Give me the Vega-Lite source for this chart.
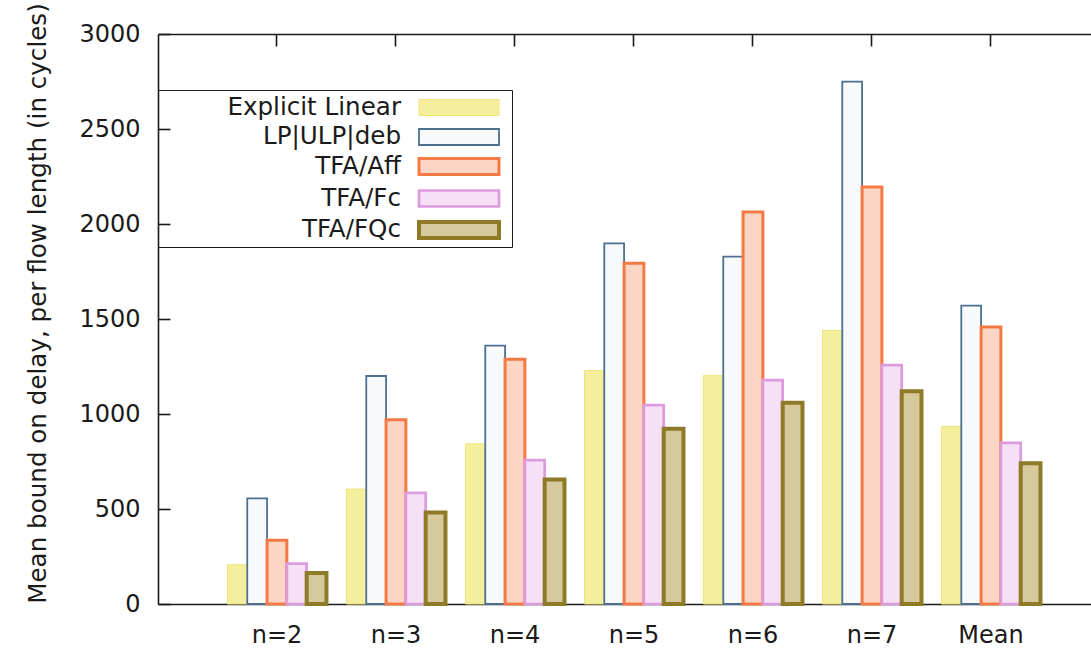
{
  "$schema": "https://vega.github.io/schema/vega-lite/v6.json",
  "width": 933,
  "height": 570,
  "autosize": "none",
  "padding": {"left": 158, "top": 34, "right": 0, "bottom": 45},
  "background": "white",
  "config": {
    "view": {"stroke": null},
    "font": "DejaVu Sans",
    "axis": {"grid": false, "domainColor": "#1a1a1a", "domainWidth": 1.6, "tickColor": "#1a1a1a", "tickWidth": 1.6, "labelColor": "#1a1a1a", "titleColor": "#1a1a1a"}
  },
  "data": {
    "values": [
      {"group": "n=2", "method": "Explicit Linear", "value": 207},
      {"group": "n=2", "method": "LP|ULP|deb", "value": 556},
      {"group": "n=2", "method": "TFA/Aff", "value": 335},
      {"group": "n=2", "method": "TFA/Fc", "value": 213},
      {"group": "n=2", "method": "TFA/FQc", "value": 163},
      {"group": "n=3", "method": "Explicit Linear", "value": 605},
      {"group": "n=3", "method": "LP|ULP|deb", "value": 1200},
      {"group": "n=3", "method": "TFA/Aff", "value": 970},
      {"group": "n=3", "method": "TFA/Fc", "value": 585},
      {"group": "n=3", "method": "TFA/FQc", "value": 482},
      {"group": "n=4", "method": "Explicit Linear", "value": 843},
      {"group": "n=4", "method": "LP|ULP|deb", "value": 1360},
      {"group": "n=4", "method": "TFA/Aff", "value": 1288},
      {"group": "n=4", "method": "TFA/Fc", "value": 757},
      {"group": "n=4", "method": "TFA/FQc", "value": 655},
      {"group": "n=5", "method": "Explicit Linear", "value": 1229},
      {"group": "n=5", "method": "LP|ULP|deb", "value": 1898},
      {"group": "n=5", "method": "TFA/Aff", "value": 1793},
      {"group": "n=5", "method": "TFA/Fc", "value": 1047},
      {"group": "n=5", "method": "TFA/FQc", "value": 922},
      {"group": "n=6", "method": "Explicit Linear", "value": 1203},
      {"group": "n=6", "method": "LP|ULP|deb", "value": 1828},
      {"group": "n=6", "method": "TFA/Aff", "value": 2063},
      {"group": "n=6", "method": "TFA/Fc", "value": 1178},
      {"group": "n=6", "method": "TFA/FQc", "value": 1059},
      {"group": "n=7", "method": "Explicit Linear", "value": 1440},
      {"group": "n=7", "method": "LP|ULP|deb", "value": 2749},
      {"group": "n=7", "method": "TFA/Aff", "value": 2195},
      {"group": "n=7", "method": "TFA/Fc", "value": 1257},
      {"group": "n=7", "method": "TFA/FQc", "value": 1120},
      {"group": "Mean", "method": "Explicit Linear", "value": 935},
      {"group": "Mean", "method": "LP|ULP|deb", "value": 1570},
      {"group": "Mean", "method": "TFA/Aff", "value": 1458},
      {"group": "Mean", "method": "TFA/Fc", "value": 848},
      {"group": "Mean", "method": "TFA/FQc", "value": 741}
    ]
  },
  "layer": [
    {
      "mark": {"type": "bar"},
      "encoding": {
        "x": {
          "field": "group", "type": "nominal",
          "sort": ["n=2", "n=3", "n=4", "n=5", "n=6", "n=7", "Mean"],
          "scale": {"paddingInner": 0.168, "paddingOuter": 0.504, "align": 0.579},
          "axis": {"orient": "bottom", "title": null, "labelAngle": 0, "labelFontSize": 24, "ticks": false, "labelPadding": 19}
        },
        "xOffset": {
          "field": "method", "type": "nominal",
          "sort": ["Explicit Linear", "LP|ULP|deb", "TFA/Aff", "TFA/Fc", "TFA/FQc"],
          "scale": {"paddingInner": 0, "paddingOuter": 0}
        },
        "y": {
          "field": "value", "type": "quantitative",
          "scale": {"domain": [0, 3000], "nice": false},
          "axis": {
            "values": [0, 500, 1000, 1500, 2000, 2500, 3000],
            "format": "d",
            "title": "Mean bound on delay, per flow length (in cycles)",
            "titleFontSize": 24.6, "titleFontWeight": "normal", "titlePadding": 28, "titleY": 269,
            "labelFontSize": 24, "tickSize": -12, "labelPadding": 30
          }
        },
        "fill": {
          "field": "method", "type": "nominal",
          "scale": {
            "domain": ["Explicit Linear", "LP|ULP|deb", "TFA/Aff", "TFA/Fc", "TFA/FQc"],
            "range": ["#f5ee9c", "#f7f9fb", "#fbd6c4", "#f5e0f5", "#d6c99c"]
          },
          "legend": {
            "orient": "none", "legendX": 0, "legendY": 56,
            "title": null, "strokeColor": "#1a1a1a", "padding": 1,
            "symbolType": "M-2.5,-0.5H2.5V0.5H-2.5Z M2.69,0", "symbolSize": 1024, "symbolOffset": 282,
            "labelFontSize": 24.6, "labelColor": "#1a1a1a", "labelAlign": "right", "labelOffset": -76, "labelLimit": 600,
            "rowPadding": -2.7
          }
        },
        "stroke": {
          "field": "method", "type": "nominal",
          "scale": {
            "domain": ["Explicit Linear", "LP|ULP|deb", "TFA/Aff", "TFA/Fc", "TFA/FQc"],
            "range": ["#efe57c", "#4e7090", "#f47a45", "#dd9add", "#8f7a28"]
          }
        },
        "strokeWidth": {
          "field": "method", "type": "nominal",
          "scale": {
            "type": "ordinal",
            "domain": ["Explicit Linear", "LP|ULP|deb", "TFA/Aff", "TFA/Fc", "TFA/FQc"],
            "range": [1, 1.8, 3, 2.7, 4]
          }
        }
      }
    },
    {
      "mark": {"type": "bar", "opacity": 0},
      "encoding": {
        "x": {
          "field": "group", "type": "nominal",
          "sort": ["n=2", "n=3", "n=4", "n=5", "n=6", "n=7", "Mean"],
          "axis": {"orient": "top", "title": null, "labels": false, "tickSize": -12}
        }
      }
    }
  ],
  "resolve": {"axis": {"x": "independent"}}
}
